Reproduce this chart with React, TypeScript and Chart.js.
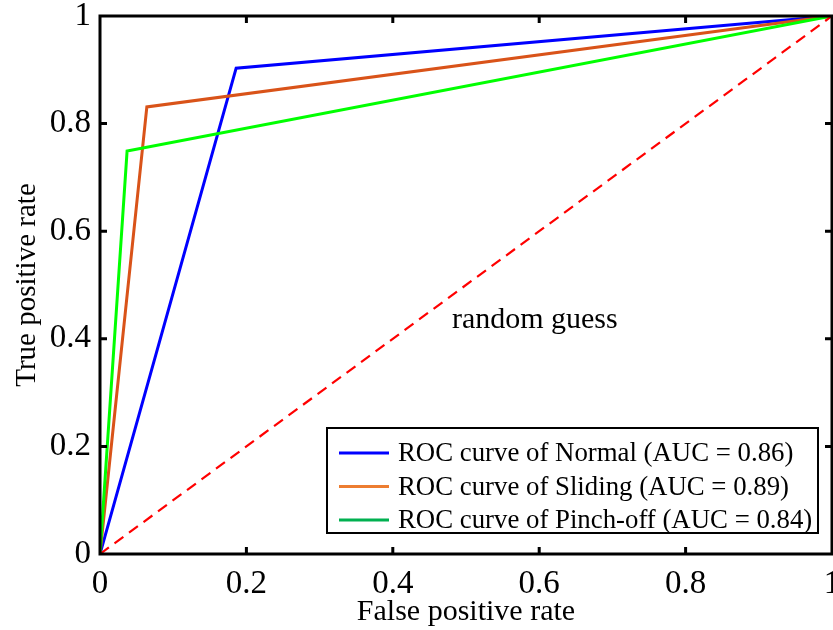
import React, { useEffect, useRef } from "react";
import { Chart, registerables } from "chart.js";

Chart.register(...registerables);

const fprNormal = [0, 0.186, 1];
const tprNormal = [0, 0.903, 1];
const fprSliding = [0, 0.064, 1];
const tprSliding = [0, 0.831, 1];
const fprPinch = [0, 0.037, 1];
const tprPinch = [0, 0.749, 1];
const fprRandom = [0, 1];
const tprRandom = [0, 1];

const legendLabels = [
  "ROC curve of Normal (AUC = 0.86)",
  "ROC curve of Sliding (AUC = 0.89)",
  "ROC curve of Pinch-off (AUC = 0.84)",
];
const legendColors = ["#0000FF", "#ED7D31", "#00B050"];
const lineColors = ["#0000FF", "#D95319", "#00FF00"];
const tickValues = [0, 0.2, 0.4, 0.6, 0.8, 1];
const xTitle = "False positive rate";
const yTitle = "True positive rate";
const annotation = "random guess";
const annotationPos = { x: 0.594, y: 0.435 };

const FONT = "'Liberation Serif', 'Times New Roman', serif";

const toPts = (xs: number[], ys: number[]) => xs.map((x, i) => ({ x, y: ys[i] }));

const fmt = (v: number) => {
  const r = Math.round(v * 10) / 10;
  return r === 0 ? "0" : r === 1 ? "1" : String(r);
};

const framePlugin = {
  id: "frame",
  afterDatasetsDraw(chart: any) {
    const { ctx, chartArea: a, scales } = chart;
    const xs = scales.x;
    const ys = scales.y;
    ctx.save();
    ctx.strokeStyle = "#000";
    ctx.lineWidth = 3;
    ctx.strokeRect(a.left, a.top, a.right - a.left, a.bottom - a.top);
    const L = 7;
    tickValues.slice(1, -1).forEach((v) => {
      const px = xs.getPixelForValue(v);
      const py = ys.getPixelForValue(v);
      ctx.beginPath();
      ctx.moveTo(px, a.bottom);
      ctx.lineTo(px, a.bottom - L);
      ctx.moveTo(px, a.top);
      ctx.lineTo(px, a.top + L);
      ctx.moveTo(a.left, py);
      ctx.lineTo(a.left + L, py);
      ctx.moveTo(a.right, py);
      ctx.lineTo(a.right - L, py);
      ctx.stroke();
    });
    ctx.fillStyle = "#000";
    ctx.font = `30px ${FONT}`;
    ctx.textAlign = "center";
    ctx.textBaseline = "middle";
    ctx.fillText(annotation, xs.getPixelForValue(annotationPos.x), ys.getPixelForValue(annotationPos.y));
    ctx.fillText(xTitle, (a.left + a.right) / 2, 612);
    ctx.save();
    ctx.translate(27, (a.top + a.bottom) / 2);
    ctx.rotate(-Math.PI / 2);
    ctx.font = `29px ${FONT}`;
    ctx.fillText(yTitle, 0, 0);
    ctx.restore();
    const bx = 327, by = 428, bw = 491, bh = 105;
    ctx.fillStyle = "#fff";
    ctx.fillRect(bx, by, bw, bh);
    ctx.strokeStyle = "#000";
    ctx.lineWidth = 2;
    ctx.strokeRect(bx, by, bw, bh);
    ctx.font = `26.8px ${FONT}`;
    ctx.textAlign = "left";
    legendLabels.forEach((lab, i) => {
      const y = by + 25 + i * 33.5;
      ctx.strokeStyle = legendColors[i];
      ctx.lineWidth = 3;
      ctx.beginPath();
      ctx.moveTo(339, y);
      ctx.lineTo(389, y);
      ctx.stroke();
      ctx.fillStyle = "#000";
      ctx.fillText(lab, 398, y + 1);
    });
    ctx.restore();
  },
};

export default function App() {
  const ref = useRef<HTMLCanvasElement>(null);
  useEffect(() => {
    if (!ref.current) return;
    const mk = (label: string, xs: number[], ys: number[], color: string, dash?: number[]) => ({
      label,
      data: toPts(xs, ys),
      showLine: true,
      borderColor: color,
      backgroundColor: color,
      borderWidth: dash ? 2.2 : 3,
      borderDash: dash || [],
      pointRadius: 0,
      fill: false,
      tension: 0,
    });
    const chart = new Chart(ref.current, {
      type: "scatter",
      data: {
        datasets: [
          mk("random", fprRandom, tprRandom, "#FF0000", [11, 7]),
          mk("Pinch-off", fprPinch, tprPinch, lineColors[2]),
          mk("Sliding", fprSliding, tprSliding, lineColors[1]),
          mk("Normal", fprNormal, tprNormal, lineColors[0]),
        ],
      },
      options: {
        animation: false,
        responsive: false,
        layout: { padding: { top: 16, right: 1, left: 0, bottom: 0 } },
        plugins: { legend: { display: false }, tooltip: { enabled: false } },
        scales: {
          x: {
            type: "linear",
            min: 0,
            max: 1,
            afterBuildTicks: (s: any) => {
              s.ticks = tickValues.map((v) => ({ value: v }));
            },
            ticks: {
              callback: (v: any) => fmt(Number(v)),
              font: { family: FONT, size: 33 },
              color: "#000",
              padding: 11,
              maxRotation: 0,
              autoSkip: false,
            },
            grid: { display: false, drawTicks: false },
            border: { display: false },
            afterFit: (s: any) => {
              s.height = 76;
              s.paddingLeft = 0;
              s.paddingRight = 0;
            },
          },
          y: {
            type: "linear",
            min: 0,
            max: 1,
            afterBuildTicks: (s: any) => {
              s.ticks = tickValues.map((v) => ({ value: v }));
            },
            ticks: {
              callback: (v: any) => fmt(Number(v)),
              font: { family: FONT, size: 33 },
              color: "#000",
              padding: 9,
              autoSkip: false,
            },
            grid: { display: false, drawTicks: false },
            border: { display: false },
            afterFit: (s: any) => {
              s.width = 100;
              s.paddingTop = 0;
              s.paddingBottom = 0;
            },
          },
        },
      },
      plugins: [framePlugin],
    } as any);
    return () => chart.destroy();
  }, []);
  return (
    <div style={{ position: "absolute", left: 0, top: 0, width: 833, height: 630, background: "#fff" }}>
      <canvas ref={ref} width={833} height={630} style={{ display: "block" }} />
    </div>
  );
}
